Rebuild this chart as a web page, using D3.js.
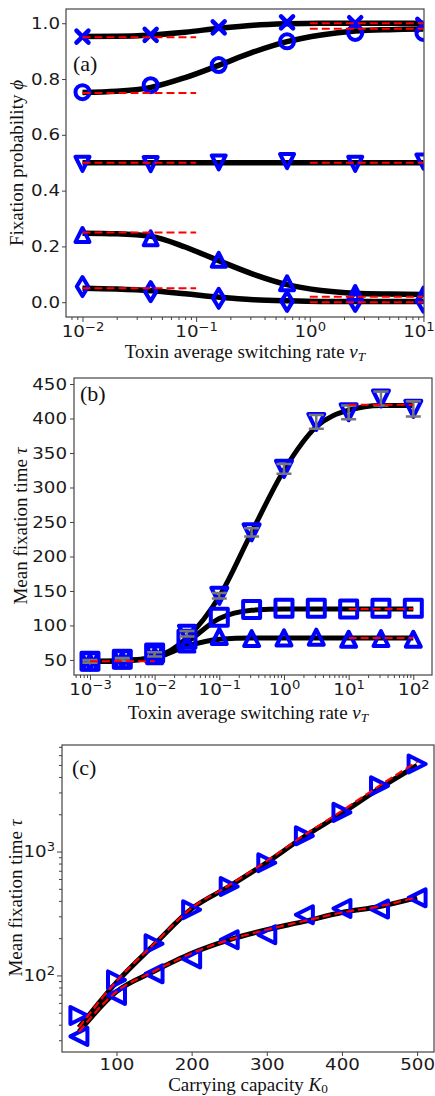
<!DOCTYPE html>
<html><head><meta charset="utf-8">
<script src="https://cdn.jsdelivr.net/npm/d3@7"></script>
<style>body{margin:0;background:#fff}svg{display:block}</style>
</head><body>
<script>
// ---------- Panel (a): fixation probability vs toxin switching rate ----------
const aRates    = [0.01, 0.0398, 0.158, 0.631, 2.51, 10];
const aCross    = [0.952, 0.958, 0.985, 1.003, 1.0, 0.994];
const aCircle   = [0.753, 0.778, 0.85, 0.935, 0.965, 0.965];
const aTriDown  = [0.496, 0.495, 0.501, 0.506, 0.496, 0.504];
const aTriUp    = [0.241, 0.229, 0.152, 0.068, 0.033, 0.027];
const aDiamond  = [0.056, 0.038, 0.014, 0.003, 0.003, 0.0];
const aCurveRates  = [0.01, 0.02, 0.04, 0.08, 0.16, 0.32, 0.63, 1.26, 2.51, 5.0, 10];
const aCurveCross  = [0.952, 0.953, 0.958, 0.968, 0.982, 0.993, 0.998, 1.0, 1.0, 1.0, 1.0];
const aCurveCircle = [0.752, 0.756, 0.77, 0.805, 0.85, 0.897, 0.934, 0.958, 0.972, 0.977, 0.979];
const aCurveTriDown= [0.5, 0.5, 0.5, 0.5, 0.5, 0.5, 0.5, 0.5, 0.5, 0.5, 0.5];
const aCurveTriUp  = [0.247, 0.245, 0.236, 0.198, 0.148, 0.10, 0.063, 0.042, 0.032, 0.029, 0.028];
const aCurveDiamond= [0.05, 0.047, 0.041, 0.03, 0.018, 0.009, 0.005, 0.003, 0.003, 0.003, 0.003];
const aLowRange  = [0.01, 0.1];
const aLowLimits = [0.95, 0.75, 0.5, 0.25, 0.05];
const aHighRange = [1, 10];
const aHighLimits= [1.0, 0.98, 0.5, 0.02, 0.0];
const aXTicks = [0.01, 0.1, 1, 10];
const aYTicks = [0.0, 0.2, 0.4, 0.6, 0.8, 1.0];

// ---------- Panel (b): mean fixation time vs toxin switching rate ----------
const bRates     = [0.001, 0.00316, 0.01, 0.0316, 0.1, 0.316, 1, 3.16, 10, 31.6, 100];
const bTriDown   = [48, 51, 58, 88, 143, 235, 327, 395, 409, 429, 414];
const bTriDownErr= [2, 2, 3, 4, 4, 6, 7, 10, 10, 10, 11];
const bSquare    = [48, 51, 60, 80, 112, 123, 125, 125, 124, 125, 125];
const bTriUp     = [47, 50, 56, 73, 84, 81, 82, 83, 80, 81, 80];
const bCurveDown = [48, 49, 54, 82, 142, 235, 325, 388, 412, 419, 419];
const bCurveSq   = [48, 49, 53, 76, 110, 122, 124, 124, 124, 124, 124];
const bCurveUp   = [48, 49, 53, 70, 80, 82, 82, 82, 82, 82, 82];
const bLowRange  = [0.001, 0.01];
const bLowLimits = [48];
const bHighRange = [10, 100];
const bHighLimits= [420, 124, 82];
const bXTicks = [0.001, 0.01, 0.1, 1, 10, 100];
const bYTicks = [50, 100, 150, 200, 250, 300, 350, 400, 450];

// ---------- Panel (c): mean fixation time vs carrying capacity ----------
const cK        = [50, 100, 150, 200, 250, 300, 350, 400, 450, 500];
const cRight    = [47.5, 92, 180, 339, 522, 811, 1339, 2070, 3390, 5090];
const cLeft     = [32.2, 69, 103, 136, 194, 213, 309, 347, 343, 423];
const cTopBlack = [38, 88, 177, 345, 523, 815, 1322, 2040, 3240, 4950];
const cTopRed   = [38, 90, 180, 350, 535, 840, 1360, 2130, 3400, 5300];
const cBotBlack = [35, 74, 108, 151, 194, 234, 273, 322, 360, 425];
const cBotRed   = [35, 74, 108, 151, 194, 234, 275, 322, 362, 428];
const cXTicks = [100, 200, 300, 400, 500];
const cYTicks = [100, 1000];

// ---------- drawing ----------
const BLUE = "#0000ff", RED = "#ff0000", FRAME = "#444";
const svg = d3.select("body").append("svg").attr("width", 435).attr("height", 1096);

function markerPath(type, s) {
  switch (type) {
    case "x": return `M${-s},${-s}L${s},${s}M${-s},${s}L${s},${-s}`;
    case "o": return `M${s},0A${s},${s} 0 1,1 ${-s},0A${s},${s} 0 1,1 ${s},0Z`;
    case "v": return `M${-s},${-s}L${s},${-s}L0,${s}Z`;
    case "^": return `M0,${-s}L${s},${s}L${-s},${s}Z`;
    case "d": return `M0,${-s}L${0.6*s},0L0,${s}L${-0.6*s},0Z`;
    case "s": return `M${-s},${-s}H${s}V${s}H${-s}Z`;
    case ">": return `M${s},0L${-s},${-s}L${-s},${s}Z`;
    case "<": return `M${-s},0L${s},${-s}L${s},${s}Z`;
  }
}
function markers(g, x, y, xs, ys, type, s, sw) {
  g.append("g").selectAll("path").data(d3.zip(xs, ys)).join("path")
    .attr("transform", d => `translate(${x(d[0])},${y(d[1])})`)
    .attr("d", markerPath(type, s))
    .attr("fill", "none").attr("stroke", BLUE).attr("stroke-width", sw)
    .attr("stroke-linejoin", "round").attr("stroke-linecap", "round");
}
function curve(g, x, y, xs, ys, color, width, dash) {
  const line = d3.line().x(d => x(d[0])).y(d => y(d[1])).curve(d3.curveMonotoneX);
  const p = g.append("path").datum(d3.zip(xs, ys)).attr("d", line)
    .attr("fill", "none").attr("stroke", color).attr("stroke-width", width)
    .attr("stroke-linejoin", "round");
  if (dash) p.attr("stroke-dasharray", dash);
  return p;
}
function hlines(g, x, y, range, vals, width) {
  vals.forEach(v => curve(g, x, y, range, [v, v], RED, width, "8,4"));
}
function styleAxis(ax) {
  ax.select(".domain").remove();
  ax.selectAll(".tick line").attr("stroke", FRAME).attr("stroke-width", 1);
  ax.attr("font-family", "DejaVu Sans").attr("font-size", 16);
  ax.selectAll(".tick text").attr("fill", "#1a1a1a");
}
function stretch(ax, f) {
  ax.selectAll(".tick text").each(function () {
    const w = this.getComputedTextLength();
    if (w > 0) d3.select(this).attr("textLength", w * f).attr("lengthAdjust", "spacingAndGlyphs");
  });
}
function pow10(ax) {
  ax.selectAll(".tick text").each(function (d) {
    const e = Math.round(Math.log10(d));
    const t = d3.select(this); t.text(null);
    t.append("tspan").text("10");
    t.append("tspan").attr("dy", "-0.55em").attr("font-size", "0.72em").text(e < 0 ? "\u2212" + (-e) : String(e));
  });
}
function minorTicks(scale, majors) {
  return scale.ticks().filter(v => !majors.some(m => Math.abs(v / m - 1) < 1e-6));
}
function frame(g, l, t, r, b) {
  g.append("rect").attr("x", l).attr("y", t).attr("width", r - l).attr("height", b - t)
    .attr("fill", "none").attr("stroke", FRAME).attr("stroke-width", 1.2);
}
function clip(id, l, t, r, b) {
  svg.append("clipPath").attr("id", id).append("rect").attr("x", l).attr("y", t).attr("width", r - l).attr("height", b - t);
}
function serifText(g, x, y, parts, size, rotate, subDy) {
  const t = g.append("text").attr("font-family", "Liberation Serif").attr("font-size", size)
    .attr("fill", "#111").attr("text-anchor", "middle")
    .attr("transform", `translate(${x},${y})` + (rotate ? " rotate(-90)" : ""));
  parts.forEach(p => {
    const s = t.append("tspan").text(p.t);
    if (p.i) s.attr("font-style", "italic");
    if (p.sub) s.attr("font-size", "0.7em").attr("dy", subDy || "0.25em");
  });
  return t;
}
const TS = 1.14; // horizontal stretch of tick labels

// ===== Panel (a) =====
{
  const L = 66, T = 9, R = 424, B = 317;
  const x = d3.scaleLog().domain([Math.pow(10, -2.145), Math.pow(10, 1.005)]).range([L, R]);
  const y = d3.scaleLinear().domain([-0.053, 1.051]).range([B, T]);
  clip("clipA", L, T, R, B);
  const g = svg.append("g");
  const pg = g.append("g").attr("clip-path", "url(#clipA)");
  [aCurveCross, aCurveCircle, aCurveTriDown, aCurveTriUp, aCurveDiamond]
    .forEach(c => curve(pg, x, y, aCurveRates, c, "#000", 5.5));
  markers(pg, x, y, aRates, aCross, "x", 6, 4.5);
  markers(pg, x, y, aRates, aCircle, "o", 7, 4);
  markers(pg, x, y, aRates, aTriDown, "v", 7, 4);
  markers(pg, x, y, aRates, aTriUp, "^", 7, 4);
  markers(pg, x, y, aRates, aDiamond, "d", 9.5, 4);
  hlines(pg, x, y, aLowRange, aLowLimits, 2);
  hlines(pg, x, y, aHighRange, aHighLimits, 2);
  frame(g, L, T, R, B);
  const xa = g.append("g").attr("transform", `translate(0,${B})`)
    .call(d3.axisBottom(x).tickValues(aXTicks).tickSize(5).tickPadding(4));
  styleAxis(xa); pow10(xa); stretch(xa, TS);
  // keep the last label inside the picture
  xa.selectAll(".tick text").filter(d => d === 10).attr("x", -5);
  const xm = g.append("g").attr("transform", `translate(0,${B})`)
    .call(d3.axisBottom(x).tickValues(minorTicks(x, aXTicks)).tickSize(3).tickFormat(""));
  styleAxis(xm);
  const ya = g.append("g").attr("transform", `translate(${L},0)`)
    .call(d3.axisLeft(y).tickValues(aYTicks).tickSize(4).tickPadding(2).tickFormat(d3.format(".1f")));
  styleAxis(ya); stretch(ya, TS);
  serifText(g, 245, 358, [{t: "Toxin average switching rate "}, {t: "\u03bd", i: 1}, {t: "T", i: 1, sub: 1}], 19);
  serifText(g, 23, 163, [{t: "Fixation probability "}, {t: "\u03d5", i: 1}], 19, true);
  g.append("text").attr("x", 73).attr("y", 71).attr("font-family", "Liberation Serif").attr("font-size", 22).attr("fill", "#111").text("(a)");
}

// ===== Panel (b) =====
{
  const L = 74, T = 378, R = 432, B = 675;
  const x = d3.scaleLog().domain([Math.pow(10, -3.247), Math.pow(10, 2.289)]).range([L, R]);
  const y = d3.scaleLinear().domain([28.2, 458.7]).range([B, T]);
  clip("clipB", L, T, R, B);
  const g = svg.append("g");
  const pg = g.append("g").attr("clip-path", "url(#clipB)");
  [bCurveDown, bCurveSq, bCurveUp].forEach(c => curve(pg, x, y, bRates, c, "#000", 5));
  markers(pg, x, y, bRates, bSquare, "s", 8.5, 4);
  markers(pg, x, y, bRates, bTriUp, "^", 7.5, 4);
  markers(pg, x, y, bRates, bTriDown, "v", 8, 4);
  // error bars
  const eb = pg.append("g").attr("stroke", "#777").attr("stroke-width", 2.5).attr("fill", "none");
  eb.selectAll("path").data(d3.zip(bRates, bTriDown, bTriDownErr)).join("path")
    .attr("d", d => {
      const cx = x(d[0]), y0 = y(d[1] - d[2]), y1 = y(d[1] + d[2]), c = 7.5;
      return `M${cx},${y0}V${y1}M${cx - c},${y0}H${cx + c}M${cx - c},${y1}H${cx + c}`;
    });
  hlines(pg, x, y, bLowRange, bLowLimits, 2);
  hlines(pg, x, y, bHighRange, bHighLimits, 2);
  frame(g, L, T, R, B);
  const xa = g.append("g").attr("transform", `translate(0,${B})`)
    .call(d3.axisBottom(x).tickValues(bXTicks).tickSize(5).tickPadding(4));
  styleAxis(xa); pow10(xa); stretch(xa, TS);
  const xm = g.append("g").attr("transform", `translate(0,${B})`)
    .call(d3.axisBottom(x).tickValues(minorTicks(x, bXTicks)).tickSize(3).tickFormat(""));
  styleAxis(xm);
  const ya = g.append("g").attr("transform", `translate(${L},0)`)
    .call(d3.axisLeft(y).tickValues(bYTicks).tickSize(4).tickPadding(3).tickFormat(d3.format("d")));
  styleAxis(ya); stretch(ya, TS);
  serifText(g, 248, 719, [{t: "Toxin average switching rate "}, {t: "\u03bd", i: 1}, {t: "T", i: 1, sub: 1}], 19);
  serifText(g, 27, 526, [{t: "Mean fixation time "}, {t: "\u03c4", i: 1}], 19, true);
  g.append("text").attr("x", 80).attr("y", 401).attr("font-family", "Liberation Serif").attr("font-size", 22).attr("fill", "#111").text("(b)");
}

// ===== Panel (c) =====
{
  const L = 62, T = 745, R = 434, B = 1052;
  const x = d3.scaleLinear().domain([27.5, 522.5]).range([L, R]);
  const y = d3.scaleLog().domain([Math.pow(10, 1.382), Math.pow(10, 3.86)]).range([B, T]);
  clip("clipC", L, T, R, B);
  const g = svg.append("g");
  const pg = g.append("g").attr("clip-path", "url(#clipC)");
  curve(pg, x, y, cK, cTopBlack, "#000", 5);
  curve(pg, x, y, cK, cBotBlack, "#000", 5);
  markers(pg, x, y, cK, cRight, ">", 8.5, 4);
  markers(pg, x, y, cK, cLeft, "<", 8.5, 4);
  curve(pg, x, y, cK, cTopRed, RED, 2.2, "8,4");
  curve(pg, x, y, cK, cBotRed, RED, 2.2, "8,4");
  frame(g, L, T, R, B);
  const xa = g.append("g").attr("transform", `translate(0,${B})`)
    .call(d3.axisBottom(x).tickValues(cXTicks).tickSize(4).tickPadding(3).tickFormat(d3.format("d")));
  styleAxis(xa); stretch(xa, TS);
  const ya = g.append("g").attr("transform", `translate(${L},0)`)
    .call(d3.axisLeft(y).tickValues(cYTicks).tickSize(5).tickPadding(2));
  styleAxis(ya); pow10(ya); stretch(ya, TS);
  const ym = g.append("g").attr("transform", `translate(${L},0)`)
    .call(d3.axisLeft(y).tickValues(minorTicks(y, cYTicks)).tickSize(3).tickFormat(""));
  styleAxis(ym);
  serifText(g, 248, 1091.3, [{t: "Carrying capacity "}, {t: "K", i: 1}, {t: "0", sub: 1}], 19, false, "0.15em");
  serifText(g, 22, 898, [{t: "Mean fixation time "}, {t: "\u03c4", i: 1}], 19, true);
  g.append("text").attr("x", 72).attr("y", 775).attr("font-family", "Liberation Serif").attr("font-size", 22).attr("fill", "#111").text("(c)");
}
</script>
</body></html>
